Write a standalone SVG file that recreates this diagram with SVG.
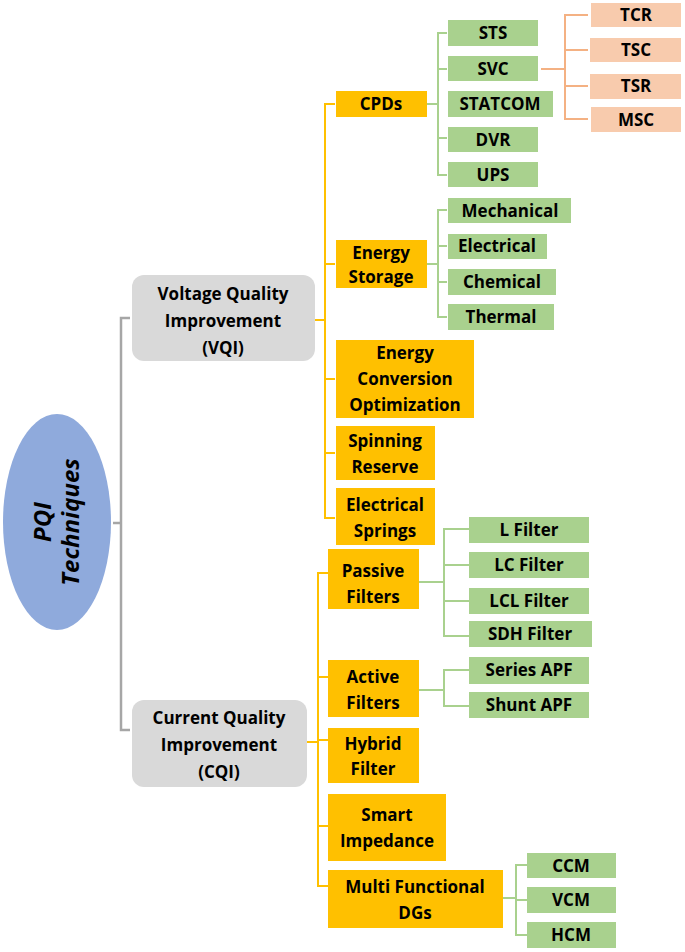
<svg xmlns="http://www.w3.org/2000/svg" width="685" height="952" viewBox="0 0 685 952">
<style>
text{font-family:"Open Sans","Liberation Sans",sans-serif;font-weight:700;font-size:17px;text-anchor:middle;fill:#000}
.o{fill:#FFC000}.g{fill:#A9D18E}.p{fill:#F8CBAD}.gr{fill:#D9D9D9}
.lo{stroke:#FFC000;stroke-width:2;fill:none}.lg{stroke:#A9D18E;stroke-width:2;fill:none}.lp{stroke:#F4B183;stroke-width:2;fill:none}.lgr{stroke:#A6A6A6;stroke-width:2.5;fill:none}
</style>
<rect width="685" height="952" fill="#fff"/>
<g id="connectors">
<path class="lgr" d="M113 523H121M130 318H121V730H130"/>
<path class="lo" d="M315 320H325M335 104H325V518H335M325 264H335M325 379H335M325 453H335"/>
<path class="lg" d="M427 104H438M447 33H438V175H447M438 69H447M438 138H447"/>
<path class="lp" d="M541 69H565M588 15H565V119H588M565 50H588M565 86H588"/>
<path class="lg" d="M427 264H438M447 210H438V317H447M438 246H447M438 282H447"/>
<path class="lo" d="M307 742H318M328 573H318V886H328M318 677H328M318 740H328M318 826H328"/>
<path class="lg" d="M419 582H444M469 529H444V636H469M444 565H469M444 601H469"/>
<path class="lg" d="M419 690H444M469 670H444V706H469"/>
<path class="lg" d="M503 898H516M527 865H516V935H527M516 900H527"/>
</g>
<g id="root"><ellipse cx="57" cy="522" rx="54" ry="108" fill="#8FAADC"/>
<text transform="translate(57 522) rotate(-90)" style="font-style:italic;font-size:24px"><tspan x="0" y="-6">PQI</tspan><tspan x="0" y="22">Techniques</tspan></text></g>
<g id="vqi"><rect class="gr" x="132" y="275" width="183" height="86" rx="12"/><text x="223" y="300">Voltage Quality<tspan x="223" y="327">Improvement</tspan><tspan x="223" y="354">(VQI)</tspan></text></g>
<g id="cqi"><rect class="gr" x="132" y="700" width="175" height="87" rx="12"/><text x="219" y="724">Current Quality<tspan x="219" y="751">Improvement</tspan><tspan x="219" y="778">(CQI)</tspan></text></g>
<g id="cpds"><rect class="o" x="336" y="91" width="91" height="26"/><text x="381" y="110">CPDs</text></g>
<g id="energy-storage"><rect class="o" x="336" y="240" width="91" height="48"/><text x="381" y="259">Energy<tspan x="381" y="283">Storage</tspan></text></g>
<g id="eco"><rect class="o" x="336" y="340" width="138" height="78"/><text x="405" y="359">Energy<tspan x="405" y="385">Conversion</tspan><tspan x="405" y="411">Optimization</tspan></text></g>
<g id="spinning"><rect class="o" x="336" y="426" width="99" height="54"/><text x="385" y="447">Spinning<tspan x="385" y="473">Reserve</tspan></text></g>
<g id="springs"><rect class="o" x="336" y="488" width="99" height="57"/><text x="385" y="511">Electrical<tspan x="385" y="537">Springs</tspan></text></g>
<g id="sts"><rect class="g" x="448" y="20" width="90" height="26"/><text x="493" y="39">STS</text></g>
<g id="svc"><rect class="g" x="448" y="56" width="90" height="25"/><text x="493" y="75">SVC</text></g>
<g id="statcom"><rect class="g" x="448" y="91" width="105" height="26"/><text x="500" y="110">STATCOM</text></g>
<g id="dvr"><rect class="g" x="448" y="127" width="90" height="25"/><text x="493" y="146">DVR</text></g>
<g id="ups"><rect class="g" x="448" y="162" width="90" height="25"/><text x="493" y="181">UPS</text></g>
<g id="tcr"><rect class="p" x="591" y="3" width="90" height="24"/><text x="636" y="21">TCR</text></g>
<g id="tsc"><rect class="p" x="590" y="38" width="91" height="24"/><text x="636" y="56">TSC</text></g>
<g id="tsr"><rect class="p" x="590" y="74" width="91" height="25"/><text x="636" y="92">TSR</text></g>
<g id="msc"><rect class="p" x="591" y="107" width="90" height="25"/><text x="636" y="126">MSC</text></g>
<g id="mechanical"><rect class="g" x="448" y="198" width="123" height="25"/><text x="510" y="217">Mechanical</text></g>
<g id="electrical"><rect class="g" x="448" y="234" width="99" height="25"/><text x="497" y="252">Electrical</text></g>
<g id="chemical"><rect class="g" x="448" y="269" width="108" height="26"/><text x="502" y="288">Chemical</text></g>
<g id="thermal"><rect class="g" x="448" y="304" width="106" height="26"/><text x="501" y="323">Thermal</text></g>
<g id="passive"><rect class="o" x="328" y="549" width="91" height="60"/><text x="373" y="577">Passive<tspan x="373" y="603">Filters</tspan></text></g>
<g id="active"><rect class="o" x="328" y="660" width="91" height="57"/><text x="373" y="683">Active<tspan x="373" y="709">Filters</tspan></text></g>
<g id="hybrid"><rect class="o" x="328" y="728" width="91" height="55"/><text x="373" y="750">Hybrid<tspan x="373" y="775">Filter</tspan></text></g>
<g id="smart"><rect class="o" x="328" y="794" width="118" height="67"/><text x="387" y="821">Smart<tspan x="387" y="847">Impedance</tspan></text></g>
<g id="mfdg"><rect class="o" x="328" y="870" width="175" height="58"/><text x="415" y="893">Multi Functional<tspan x="415" y="919">DGs</tspan></text></g>
<g id="lf"><rect class="g" x="469" y="517" width="120" height="26"/><text x="529" y="536">L Filter</text></g>
<g id="lcf"><rect class="g" x="469" y="552" width="120" height="26"/><text x="529" y="571">LC Filter</text></g>
<g id="lclf"><rect class="g" x="469" y="588" width="120" height="26"/><text x="529" y="607">LCL Filter</text></g>
<g id="sdh"><rect class="g" x="469" y="621" width="123" height="26"/><text x="530" y="640">SDH Filter</text></g>
<g id="series"><rect class="g" x="469" y="657" width="120" height="27"/><text x="529" y="676">Series APF</text></g>
<g id="shunt"><rect class="g" x="469" y="692" width="120" height="26"/><text x="529" y="711">Shunt APF</text></g>
<g id="ccm"><rect class="g" x="527" y="853" width="89" height="25"/><text x="571" y="872">CCM</text></g>
<g id="vcm"><rect class="g" x="527" y="887" width="89" height="26"/><text x="571" y="906">VCM</text></g>
<g id="hcm"><rect class="g" x="527" y="922" width="89" height="26"/><text x="571" y="941">HCM</text></g>
</svg>
